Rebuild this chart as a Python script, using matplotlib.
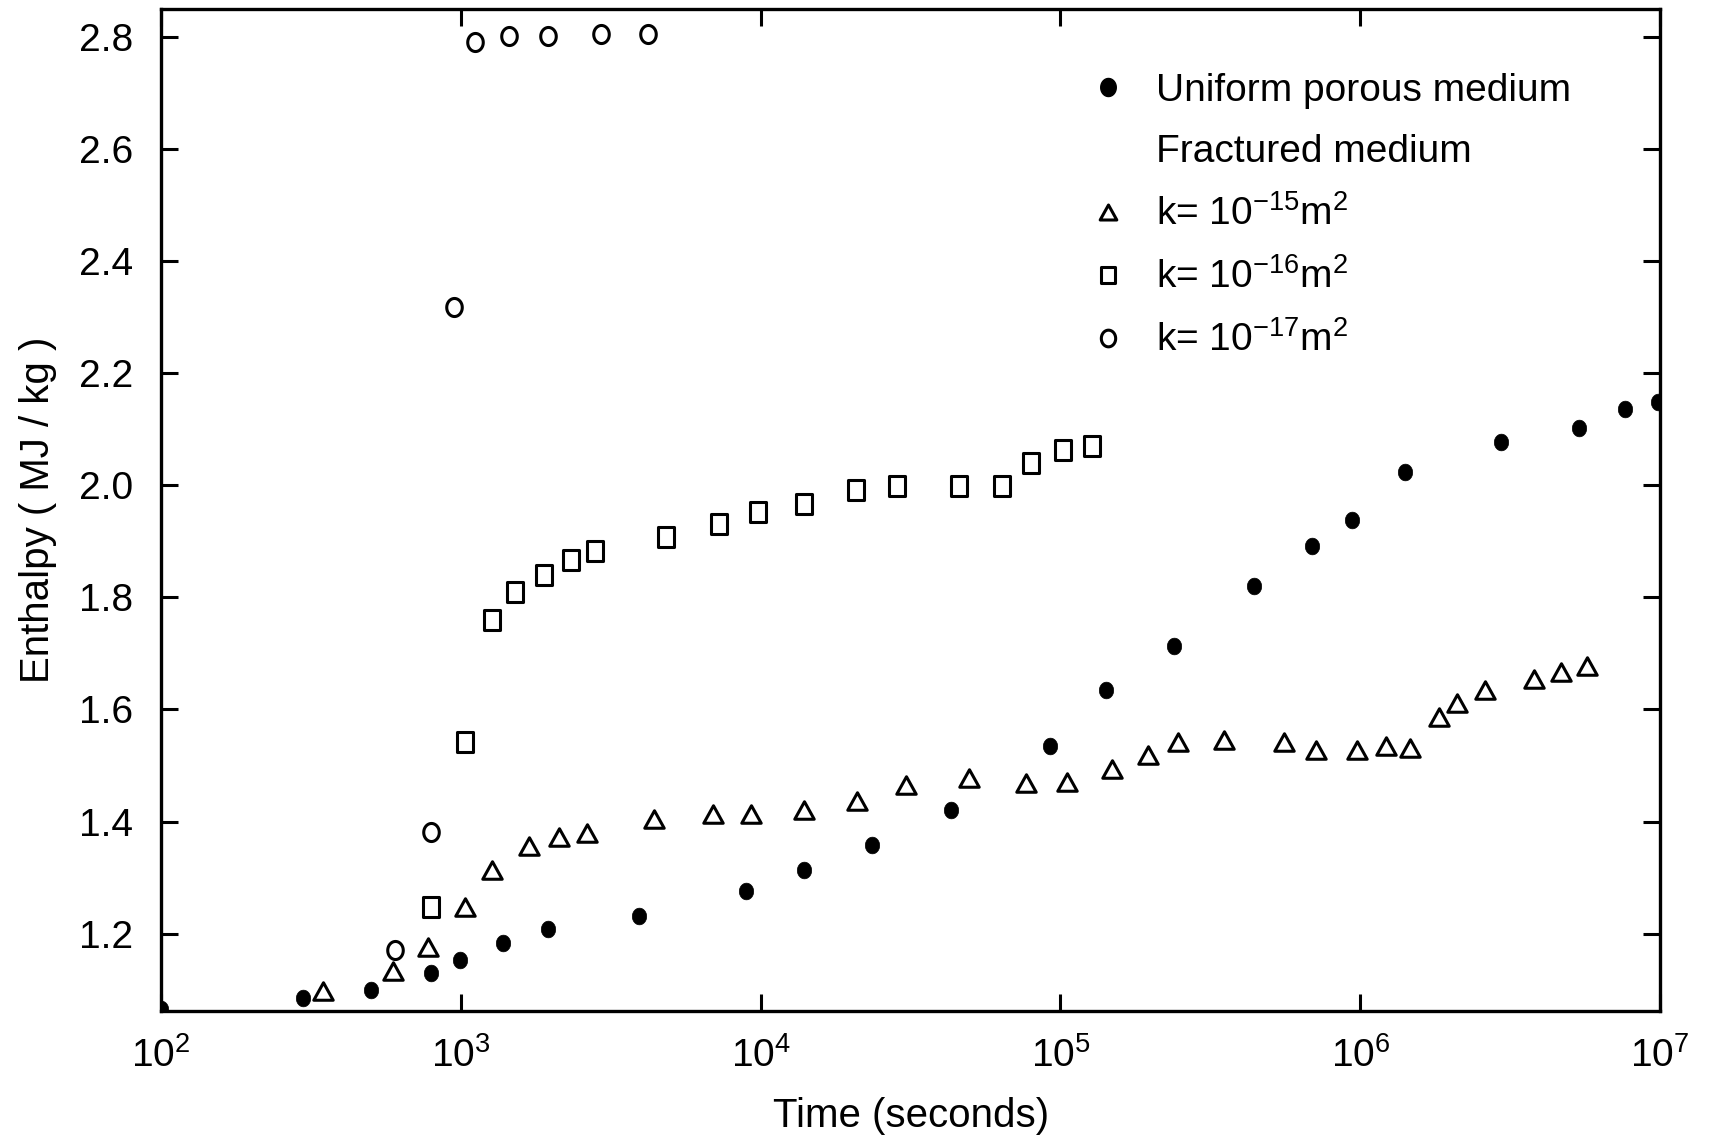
import numpy as np
import matplotlib
matplotlib.use("Agg")
import matplotlib.pyplot as plt
from matplotlib.lines import Line2D
from matplotlib.path import Path

plt.rcParams['font.family'] = ['Liberation Sans', 'DejaVu Sans']
plt.rcParams['mathtext.fontset'] = 'custom'
plt.rcParams['mathtext.rm'] = 'Liberation Sans'
plt.rcParams['mathtext.it'] = 'Liberation Sans'
plt.rcParams['mathtext.bf'] = 'Liberation Sans'

# ---- data ----
uniform_t = [100, 297, 500, 792, 993, 1377, 1958, 3926, 8920, 13900, 23600, 43100,
             92500, 141700, 240000, 442000, 690000, 942000, 1.41e6, 2.94e6, 5.38e6,
             7.66e6, 9.84e6]
uniform_h = [1.066, 1.085, 1.099, 1.130, 1.153, 1.184, 1.208, 1.231, 1.276, 1.313,
             1.359, 1.420, 1.534, 1.635, 1.713, 1.820, 1.892, 1.937, 2.024, 2.077,
             2.102, 2.135, 2.149]

k15_t = [348, 596, 779, 1035, 1268, 1684, 2130, 2625, 4415, 6940, 9300, 14000, 21000,
         30600, 49700, 76900, 104800, 148900, 196300, 246400, 350000, 555000, 714000,
         973000, 1.22e6, 1.46e6, 1.83e6, 2.10e6, 2.60e6, 3.81e6, 4.66e6, 5.71e6]
k15_h = [1.097, 1.134, 1.177, 1.247, 1.313, 1.357, 1.373, 1.379, 1.404, 1.414, 1.414,
         1.420, 1.437, 1.466, 1.478, 1.468, 1.470, 1.494, 1.519, 1.542, 1.546, 1.542,
         1.527, 1.527, 1.534, 1.532, 1.587, 1.612, 1.635, 1.655, 1.667, 1.678]

k16_t = [792, 1035, 1268, 1511, 1894, 2334, 2807, 4840, 7240, 9790, 13900, 20800,
         28600, 45700, 63900, 79500, 102100, 127000]
k16_h = [1.247, 1.542, 1.760, 1.810, 1.840, 1.867, 1.882, 1.908, 1.931, 1.952, 1.966,
         1.992, 1.999, 1.999, 1.999, 2.040, 2.063, 2.069]

k17_t = [601, 792, 945, 1117, 1448, 1958, 2930, 4200]
k17_h = [1.171, 1.381, 2.318, 2.790, 2.802, 2.802, 2.804, 2.804]

legend_labels = ["Uniform porous medium", "Fractured medium",
                 r"k= 10$^{-15}$m$^{2}$", r"k= 10$^{-16}$m$^{2}$", r"k= 10$^{-17}$m$^{2}$"]
y_ticks = [1.2, 1.4, 1.6, 1.8, 2.0, 2.2, 2.4, 2.6, 2.8]
x_ticks = [1e2, 1e3, 1e4, 1e5, 1e6, 1e7]

# ---- marker shapes ----
th = np.linspace(0, 2 * np.pi, 60)
ellipse = Path(np.column_stack([0.43 * np.cos(th), 0.5 * np.sin(th)]), closed=True)
rect = Path([(-0.4, -0.5), (0.4, -0.5), (0.4, 0.5), (-0.4, 0.5), (-0.4, -0.5)], closed=True)
tri = Path([(0, 0.45), (-0.5, -0.45), (0.5, -0.45), (0, 0.45)], closed=True)

fig = plt.figure(figsize=(17.1, 11.38), dpi=100)
ax = fig.add_axes([0.0942, 0.1116, 0.8766, 0.8808])

ax.plot(uniform_t, uniform_h, ls='none', marker=ellipse, ms=12, mfc='black', mec='black', mew=0.5)
ax.plot(k15_t, k15_h, ls='none', marker=tri, ms=14, mfc='none', mec='black', mew=2.2)
ax.plot(k16_t, k16_h, ls='none', marker=rect, ms=14, mfc='none', mec='black', mew=2.2)
ax.plot(k17_t, k17_h, ls='none', marker=ellipse, ms=13, mfc='none', mec='black', mew=2.2)

ax.set_xscale('log')
ax.set_xlim(1e2, 1e7)
ax.set_ylim(1.062, 2.85)
ax.set_xticks(x_ticks)
ax.set_yticks(y_ticks)
ax.set_yticklabels([f"{v:.1f}" for v in y_ticks])
ax.minorticks_off()
ax.tick_params(axis='both', which='major', direction='in', length=12, width=2.2,
               top=True, right=True, labelsize=28, colors='black')
ax.tick_params(axis='y', pad=20)
ax.tick_params(axis='x', pad=19)
for s in ax.spines.values():
    s.set_linewidth(2.4)

ax.set_xlabel("Time (seconds)", fontsize=29, labelpad=16)
ax.set_ylabel("Enthalpy ( MJ / kg )", fontsize=29, labelpad=16)

handles = [
    Line2D([], [], ls='none', marker=ellipse, ms=13, mfc='black', mec='black'),
    Line2D([], [], ls='none', marker=None),
    Line2D([], [], ls='none', marker=tri, ms=12, mfc='none', mec='black', mew=2.2),
    Line2D([], [], ls='none', marker=rect, ms=12, mfc='none', mec='black', mew=2.2),
    Line2D([], [], ls='none', marker=ellipse, ms=12, mfc='none', mec='black', mew=2.2),
]
ax.legend(handles, legend_labels, loc='upper left', bbox_to_anchor=(0.621, 0.936),
          frameon=False, fontsize=28, handlelength=0.8, handletextpad=0.85,
          labelspacing=0.65, borderpad=0, borderaxespad=0)

fig.savefig("out.png", dpi=100)
